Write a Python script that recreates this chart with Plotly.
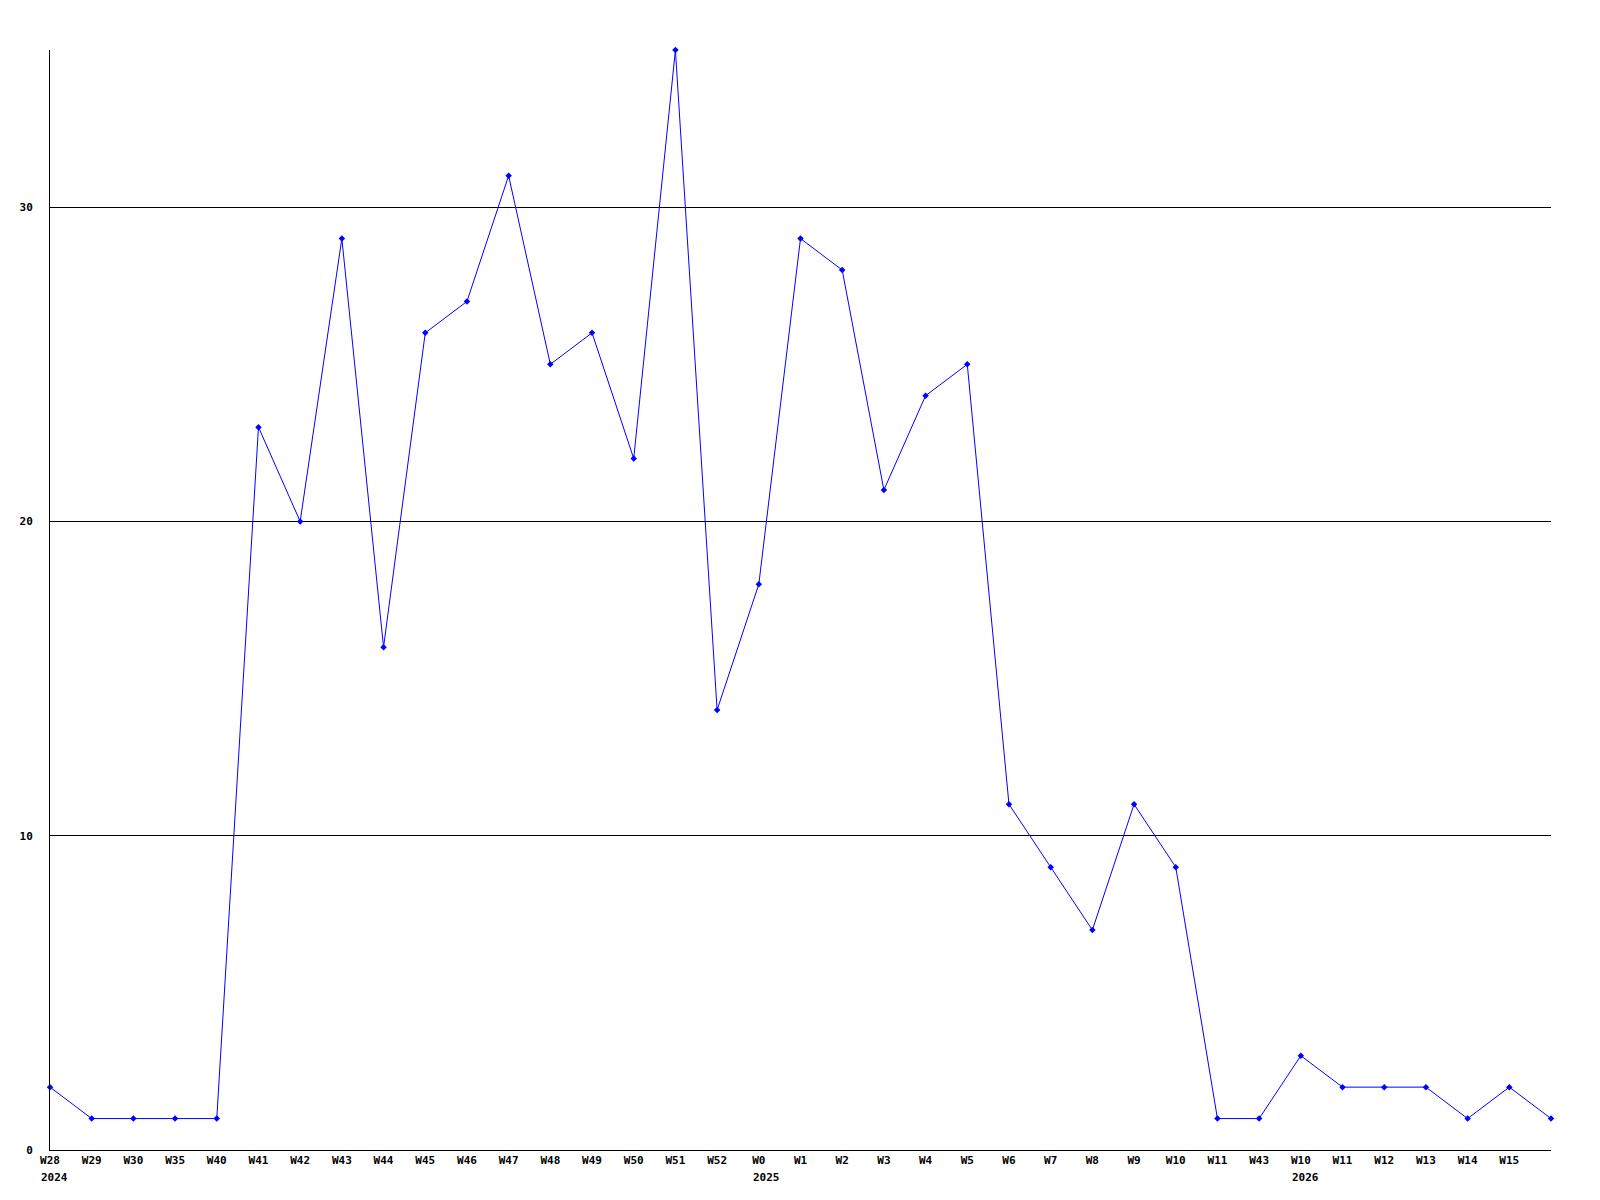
import plotly.graph_objects as go

weeks = ["W28", "W29", "W30", "W35", "W40", "W41", "W42", "W43", "W44", "W45", "W46",
         "W47", "W48", "W49", "W50", "W51", "W52", "W0", "W1", "W2", "W3", "W4", "W5",
         "W6", "W7", "W8", "W9", "W10", "W11", "W43", "W10", "W11", "W12", "W13", "W14",
         "W15", ""]
years = {0: "2024", 17: "2025", 30: "2026"}
counts = [2, 1, 1, 1, 1, 23, 20, 29, 16, 26, 27, 31, 25, 26, 22, 35, 14, 18, 29, 28, 21,
          24, 25, 11, 9, 7, 11, 9, 1, 1, 3, 2, 2, 2, 1, 2, 1]
y_ticks = [0, 10, 20, 30]

xs = list(range(len(counts)))

tfont = dict(family="DejaVu Sans Mono", size=11, color="black", weight="bold")
char_w = 6.6

fig = go.Figure(go.Scatter(
    x=xs, y=counts, mode="lines+markers",
    line=dict(color="#0000ff", width=1),
    marker=dict(symbol="diamond", size=5, color="#0000ff"),
    cliponaxis=False, hoverinfo="skip",
))

for i, yr in years.items():
    fig.add_annotation(
        x=i, y=0, xref="x", yref="paper", text=yr, showarrow=False,
        xanchor="left", yanchor="middle", xshift=-len(weeks[i]) * char_w / 2 - 1,
        yshift=-27, font=tfont,
    )

fig.update_layout(
    width=1600, height=1200,
    margin=dict(l=42, r=57, t=42, b=58, autoexpand=False),
    paper_bgcolor="white", plot_bgcolor="white",
    showlegend=False,
    font=dict(family="DejaVu Sans Mono", size=11, color="black"),
)
fig.update_xaxes(
    range=[0, len(counts) - 1], tickvals=xs, ticktext=weeks, tickangle=0,
    showline=True, linecolor="black", linewidth=1, showgrid=False, zeroline=False,
    ticks="", tickfont=tfont,
)
fig.update_yaxes(
    range=[0, 35], tickvals=y_ticks, ticktext=[str(v) for v in y_ticks],
    showline=True, linecolor="black", linewidth=1,
    showgrid=True, gridcolor="black", gridwidth=1, zeroline=False,
    ticks="", ticklabelstandoff=14, tickfont=tfont,
)

fig.write_html("out.html")
